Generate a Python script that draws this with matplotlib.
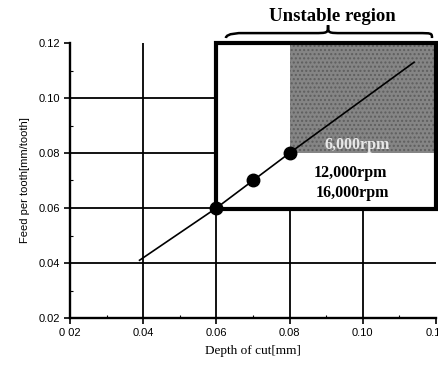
import matplotlib
matplotlib.use('Agg')
import matplotlib.pyplot as plt
from matplotlib.patches import Rectangle, PathPatch
from matplotlib.path import Path

# data
depth = [0.039, 0.06, 0.07, 0.08, 0.114]
feed = [0.041, 0.06, 0.07, 0.08, 0.113]
pt_depth = [0.06, 0.07, 0.08]
pt_feed = [0.06, 0.07, 0.08]
ticks = [0.02, 0.04, 0.06, 0.08, 0.10, 0.12]
xtick_labels = ['0 02', '0.04', '0.06', '0.08', '0.10', '0.12']
ytick_labels = ['0.02', '0.04', '0.06', '0.08', '0.10', '0.12']
rpm_labels = ['6,000rpm', '12,000rpm', '16,000rpm']
rpm_pos = [(0.0986, 0.0829), (0.0967, 0.0727), (0.0972, 0.0655)]
box = (0.06, 0.0595, 0.12, 0.12)
unstable = (0.08, 0.08, 0.12, 0.12)

fig = plt.figure(figsize=(4.39, 3.65), dpi=100)
ax = fig.add_axes([70 / 439, 47 / 365, 366 / 439, 275 / 365])
ax.set_xlim(0.02, 0.12)
ax.set_ylim(0.02, 0.12)

for s in ['top', 'right']:
    ax.spines[s].set_visible(False)
for s in ['left', 'bottom']:
    ax.spines[s].set_linewidth(1.7)

# interior grid lines only
for t in ticks[1:-1]:
    ax.axvline(t, color='black', lw=1.3, zorder=1)
    ax.axhline(t, color='black', lw=1.3, zorder=1)

ax.set_xticks(ticks)
ax.set_xticklabels(xtick_labels)
ax.set_yticks(ticks)
ax.set_yticklabels(ytick_labels)
ax.set_xticks([0.03, 0.05, 0.07, 0.09, 0.11], minor=True)
ax.set_yticks([0.03, 0.05, 0.07, 0.09, 0.11], minor=True)
ax.tick_params(which='major', direction='out', length=4, width=1.2,
               labelsize=8, pad=3)
ax.tick_params(which='minor', direction='in', length=2, width=0.8)
for lab in ax.get_xticklabels() + ax.get_yticklabels():
    lab.set_fontfamily('Liberation Sans')

ax.set_ylabel('Feed per tooth[mm/tooth]', fontsize=8, family='Liberation Sans',
              labelpad=6)
ax.set_xlabel('Depth of cut[mm]', fontsize=9.5, family='Liberation Serif',
              labelpad=5)

# unstable region box
bx0, by0, bx1, by1 = box
ax.add_patch(Rectangle((bx0, by0), bx1 - bx0, by1 - by0, facecolor='white',
                       edgecolor='none', zorder=2, clip_on=False))
ux0, uy0, ux1, uy1 = unstable
ax.add_patch(Rectangle((ux0, uy0), ux1 - ux0, uy1 - uy0, facecolor='#858585',
                       edgecolor='#5e5e5e', hatch='....', lw=0, zorder=2.1,
                       clip_on=False))
ax.add_patch(Rectangle((bx0, by0), bx1 - bx0, by1 - by0, facecolor='none',
                       edgecolor='black', lw=3.0, zorder=3, clip_on=False))

ax.plot(depth, feed, color='black', lw=1.2, zorder=4, clip_on=False)
ax.plot(pt_depth, pt_feed, 'o', color='black', markersize=9, zorder=5,
        clip_on=False)

colors = ['#e8e8e8', 'black', 'black']
for lab, (x, y), c in zip(rpm_labels, rpm_pos, colors):
    ax.text(x, y, lab, ha='center', va='center', fontsize=11.5,
            family='Liberation Serif', weight='bold', color=c, zorder=6)

# curly brace over the box
xl, xr, xc = 0.0626, 0.1189, 0.0905
ye, yh, yt = 0.1218, 0.1236, 0.1265
d = 0.004
verts = [(xl, ye), (xl, yh), (xl + d, yh), (xl + d, yh),
         (xc - d, yh),
         (xc, yh), (xc, yh), (xc, yt),
         (xc, yh), (xc, yh), (xc + d, yh),
         (xr - d, yh),
         (xr, yh), (xr, yh), (xr, ye)]
codes = [Path.MOVETO, Path.CURVE4, Path.CURVE4, Path.CURVE4,
         Path.LINETO,
         Path.CURVE4, Path.CURVE4, Path.CURVE4,
         Path.CURVE4, Path.CURVE4, Path.CURVE4,
         Path.LINETO,
         Path.CURVE4, Path.CURVE4, Path.CURVE4]
ax.add_patch(PathPatch(Path(verts, codes), facecolor='none', edgecolor='black',
                       lw=1.8, clip_on=False, zorder=6))

ax.text(0.0916, 0.1295, 'Unstable region', ha='center', va='center',
        fontsize=13.5, family='Liberation Serif', weight='bold')

fig.savefig('out.png', dpi=100)
